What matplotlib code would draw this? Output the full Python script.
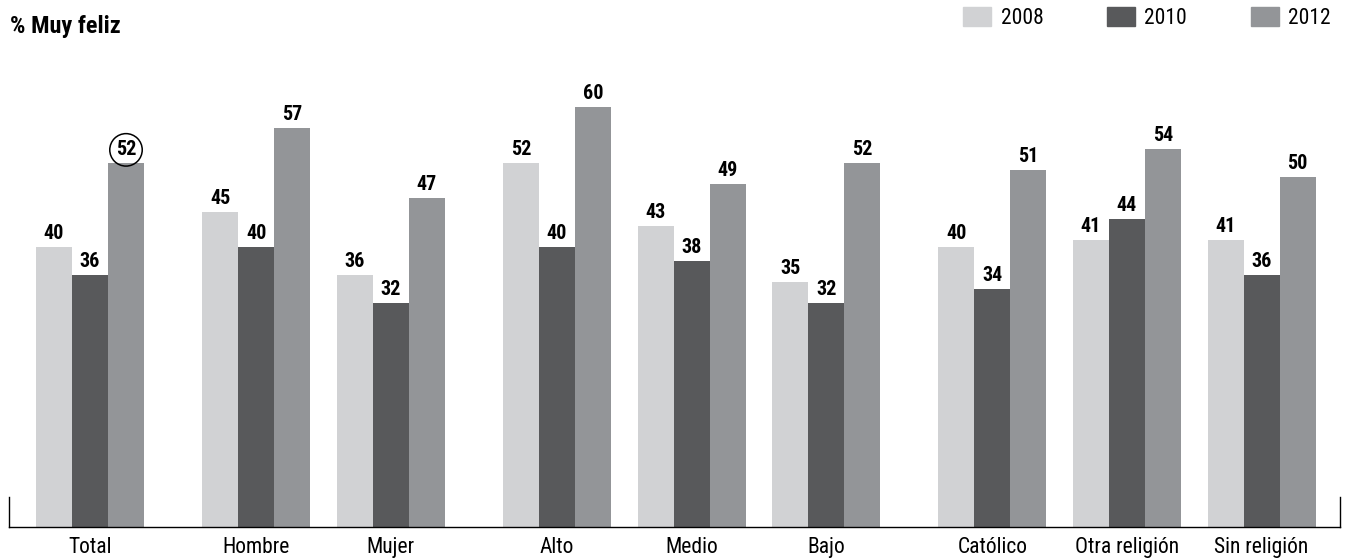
import matplotlib.pyplot as plt
from matplotlib.patches import Patch

plt.rcParams['font.family'] = ['Roboto Condensed', 'Liberation Sans Narrow', 'Roboto', 'DejaVu Sans']

categories = ['Total', 'Hombre', 'Mujer', 'Alto', 'Medio', 'Bajo',
              'Católico', 'Otra religión', 'Sin religión']
sections = [0, 1, 1, 2, 2, 2, 3, 3, 3]
years = ['2008', '2010', '2012']
v2008 = [40, 45, 36, 52, 43, 35, 40, 41, 41]
v2010 = [36, 40, 32, 40, 38, 32, 34, 44, 36]
v2012 = [52, 57, 47, 60, 49, 52, 51, 54, 50]
colors = ['#d1d2d4', '#58595b', '#939598']

fig = plt.figure(figsize=(13.47, 5.6), dpi=100)
ax = fig.add_axes([9 / 1347, 1 - 527 / 560, 1331 / 1347, 490 / 560])

step = 3.74
extra = 0.875
lefts = [0.75 + i * step + s * extra for i, s in enumerate(sections)]

for k, vals in enumerate([v2008, v2010, v2012]):
    xs = [l + k + 0.5 for l in lefts]
    ax.bar(xs, vals, width=1.0, color=colors[k], linewidth=0)
    for i, (x, v) in enumerate(zip(xs, vals)):
        if i == 0 and k == 2:
            # highlighted value gets a circle
            ax.annotate(str(v), (x, v), xytext=(0, 5.5), textcoords='offset points',
                        ha='center', va='baseline', fontsize=14.5, fontweight='bold',
                        bbox=dict(boxstyle='circle,pad=0.3', fc='none', ec='black', lw=1.1))
        else:
            ax.annotate(str(v), (x, v), xytext=(0, 6), textcoords='offset points',
                        ha='center', va='baseline', fontsize=14.5, fontweight='bold')

ax.set_xlim(0, 1331 / 36)
ax.set_ylim(0, 70)
ax.set_xticks([l + 1.5 for l in lefts])
ax.set_xticklabels(categories, fontsize=15.5)
ax.tick_params(axis='x', length=0, pad=7)
ax.set_yticks([])
ax.spines['top'].set_visible(False)
ax.spines['left'].set_bounds(0, 4.3)
ax.spines['right'].set_bounds(0, 4.3)
for s in ['left', 'right', 'bottom']:
    ax.spines[s].set_linewidth(1.0)

fig.text(10 / 1347, 1 - 33 / 560, '% Muy feliz', fontsize=17.5, fontweight='bold',
         ha='left', va='baseline')

handles = [Patch(color=c) for c in colors]
fig.legend(handles, years, loc='center right', bbox_to_anchor=(1331 / 1347, 1 - 18 / 560),
           ncol=3, frameon=False, fontsize=15.5, handlelength=1.3, handleheight=0.93,
           handletextpad=0.45, columnspacing=2.95, borderpad=0, borderaxespad=0)

fig.savefig('out.png', dpi=100)
